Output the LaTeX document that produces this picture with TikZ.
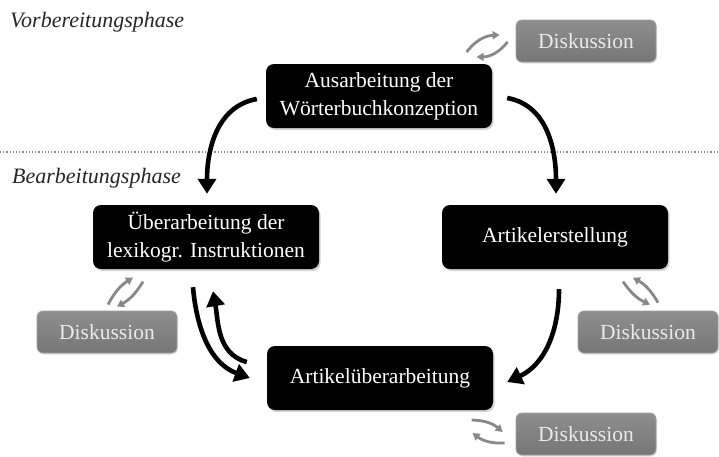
\documentclass[tikz,border=0pt]{standalone}
\usepackage{fontspec}
\setmainfont{Liberation Serif}
\usetikzlibrary{arrows.meta,shadows,calc}
\definecolor{boxtop}{HTML}{8E8E8E}
\definecolor{boxbot}{HTML}{767676}
\definecolor{boxedge}{HTML}{A0A0A0}
\definecolor{cyclegray}{HTML}{888888}
\tikzset{
  mainbox/.style={fill=black, rounded corners=8pt, minimum width=226pt, minimum height=64pt,
    text=white, align=center, inner sep=0pt,
    font=\fontsize{21.5}{28}\selectfont,
    drop shadow={opacity=0.35, shadow xshift=1.5pt, shadow yshift=-2pt}},
  diskbox/.style={top color=boxtop, bottom color=boxbot, draw=boxedge, line width=0.8pt,
    rounded corners=6pt, minimum width=140pt, minimum height=42pt,
    text=white!92!black, inner sep=0pt, font=\fontsize{21.5}{26}\selectfont,
    drop shadow={opacity=0.25, shadow xshift=1pt, shadow yshift=-1.5pt}},
  phase/.style={anchor=base west, inner sep=0pt, text=black!85, font=\fontsize{22}{26}\selectfont\itshape},
  bigarrow/.style={line width=4.6pt, -{Triangle[width=18pt,length=15pt]}},
  cyc/.style={draw=cyclegray, line width=2.8pt, -{Triangle[width=8pt,length=7pt]}}
}
\begin{document}
\begin{tikzpicture}[x=1pt,y=-1pt]
\useasboundingbox (0,0) rectangle (719,456);

\node[phase] (vp) at (10,27) {Vorbereitungsphase};
\node[phase] (bp) at (12,183) {Bearbeitungsphase};
\coordinate (dl) at (0,152);
\coordinate (dr) at (719,152);
\draw[black!45, line width=1.2pt, dotted] (dl) -- (dr);

\node[mainbox] (A) at (379,96) {Ausarbeitung der\\Wörterbuchkonzeption};
\node[mainbox] (L) at (206,237) {Überarbeitung der\\lexikogr. Instruktionen};
\node[mainbox] (R) at (555,237) {Artikelerstellung};
\node[mainbox] (B) at (380,378) {Artikelüberarbeitung};

\node[diskbox] (D1) at (586,41) {Diskussion};
\node[diskbox] (D2) at (107,332) {Diskussion};
\node[diskbox] (D3) at (648,332) {Diskussion};
\node[diskbox] (D4) at (586,434) {Diskussion};

% main arrows
\draw[bigarrow] ($(A.west)+(-9,3)$) to[out=190,in=90] ($(L.north)+(1,-11)$);
\draw[bigarrow] ($(A.east)+(15,2)$) to[out=-10,in=90] ($(R.north)+(1,-11)$);
\draw[bigarrow] ($(R.south)+(4,20)$) to[out=-90,in=25] ($(B.east)+(14,4)$);
\draw[bigarrow] ($(L.south)+(-13,18)$) to[out=-85,in=160] ($(B.west)+(-17,0)$);
\draw[bigarrow] ($(B.west)+(-20,-16)$) to[out=165,in=-80] ($(L.south)+(7,22)$);

% discussion cycles
\draw[cyc] ($(D1.west)+(-49,11)$) to[bend left=25] ($(D1.west)+(-16,-6)$);
\draw[cyc] ($(D1.west)+(-8,1)$) to[bend left=25] ($(D1.west)+(-39,16)$);

\draw[cyc] ($(D2.north)+(1,-6)$) to[bend left=15] ($(D2.north)+(26,-33)$);
\draw[cyc] ($(D2.north)+(36,-29)$) to[bend left=15] ($(D2.north)+(10,-4)$);

\draw[cyc] ($(D3.north)+(-25,-29)$) to[bend right=15] ($(D3.north)+(2,-6)$);
\draw[cyc] ($(D3.north)+(10,-8)$) to[bend right=15] ($(D3.north)+(-15,-33)$);

\draw[cyc] ($(D4.west)+(-44,-14)$) to[bend left=20] ($(D4.west)+(-13,-2)$);
\draw[cyc] ($(D4.west)+(-11,9)$) to[bend left=20] ($(D4.west)+(-43,-1)$);
\end{tikzpicture}
\end{document}
